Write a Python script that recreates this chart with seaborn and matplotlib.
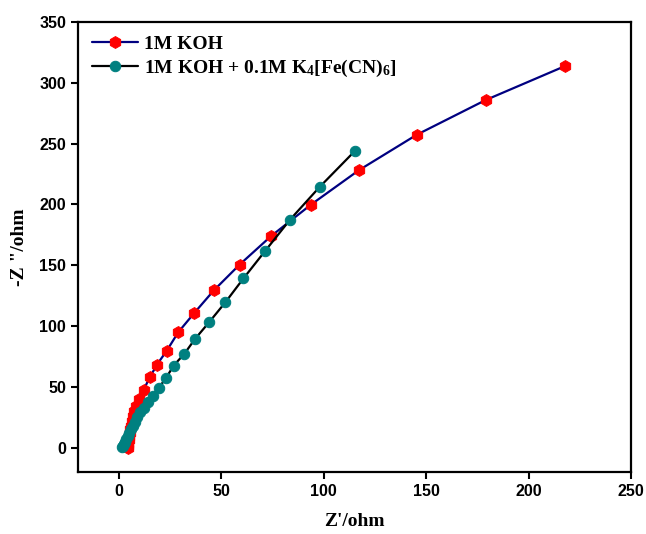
import matplotlib
matplotlib.use("Agg")
import matplotlib.pyplot as plt
import seaborn as sns
import pandas as pd

# 1M KOH
koh_x = [4.4, 4.5, 4.6, 4.8, 5.0, 5.3, 5.6, 6.0, 6.5, 7.0, 7.5, 8.3, 9.9, 12.0, 15.1,
         18.5, 23.4, 29.0, 36.7, 46.3, 58.9, 74.3, 93.8, 117.2, 145.4, 179.0, 217.7]
koh_y = [0.0, 1.0, 3.0, 6.0, 9.0, 12.0, 15.0, 18.0, 22.0, 26.0, 30.0, 34.6, 40.1, 47.5, 57.9,
         68.1, 79.9, 95.0, 110.6, 129.3, 150.5, 174.0, 199.9, 228.2, 257.3, 285.8, 313.7]

# 1M KOH + 0.1M K4[Fe(CN)6]
fe_x = [1.6, 1.9, 2.3, 2.8, 3.5, 4.2, 5.0, 6.0, 7.0, 8.0, 9.0, 10.5, 12.0, 14.0, 16.4,
        19.4, 22.9, 26.7, 31.9, 37.2, 44.2, 51.9, 60.8, 71.5, 83.6, 98.0, 115.1]
fe_y = [0.3, 1.5, 3.0, 5.0, 7.0, 9.5, 12.0, 15.0, 18.0, 21.0, 25.0, 29.0, 33.0, 37.3, 42.8,
        49.2, 57.0, 67.5, 77.1, 89.5, 103.5, 119.4, 139.2, 162.0, 187.6, 214.4, 243.8]

labels = ["1M KOH", "1M KOH + 0.1M K$_4$[Fe(CN)$_6$]"]
x_ticks = [0, 50, 100, 150, 200, 250]
y_ticks = [0, 50, 100, 150, 200, 250, 300, 350]

sns.set_style("ticks")
plt.rcParams["mathtext.fontset"] = "custom"
plt.rcParams["mathtext.rm"] = "Liberation Serif:bold"
plt.rcParams["mathtext.default"] = "rm"
plt.rcParams["text.color"] = "black"
plt.rcParams["axes.labelcolor"] = "black"
plt.rcParams["xtick.color"] = "black"
plt.rcParams["ytick.color"] = "black"

fig = plt.figure(figsize=(6.46, 5.34), dpi=100)
ax = fig.add_axes([0.1207, 0.1161, 0.9768 - 0.1207, 0.9588 - 0.1161])

df1 = pd.DataFrame({"x": koh_x, "y": koh_y})
df2 = pd.DataFrame({"x": fe_x, "y": fe_y})

sns.lineplot(data=df1, x="x", y="y", ax=ax, sort=False, estimator=None,
             color="#000080", linewidth=1.6, marker="h", markersize=8.5,
             markerfacecolor="red", markeredgecolor="red", label=labels[0])
sns.lineplot(data=df2, x="x", y="y", ax=ax, sort=False, estimator=None,
             color="black", linewidth=1.6, marker="o", markersize=7.5,
             markerfacecolor="#008080", markeredgecolor="#008080", label=labels[1])

ax.set_xlim(-20, 250)
ax.set_ylim(-20, 350)
ax.set_xticks(x_ticks)
ax.set_yticks(y_ticks)
for lab in ax.get_xticklabels() + ax.get_yticklabels():
    lab.set_fontfamily("Liberation Sans")
    lab.set_fontweight("bold")
    lab.set_fontsize(11.5)
    lab.set_color("black")
ax.tick_params(direction="out", length=5, width=1.5, top=False, right=False, colors="black")
for s in ax.spines.values():
    s.set_linewidth(1.6)
    s.set_color("black")

ax.set_xlabel("Z'/ohm", fontfamily="Liberation Serif", fontweight="bold", fontsize=14,
              labelpad=10, color="black")
ax.set_ylabel('-Z "/ohm', fontfamily="Liberation Serif", fontweight="bold", fontsize=14,
              labelpad=8, color="black")

leg = ax.legend(loc="upper left", frameon=False, handlelength=2.4, handletextpad=0.3,
                borderaxespad=0.3, labelspacing=0.25,
                prop={"family": "Liberation Serif", "weight": "bold", "size": 14})
for t in leg.get_texts():
    t.set_color("black")

fig.savefig("out.png", dpi=100, facecolor="white")
